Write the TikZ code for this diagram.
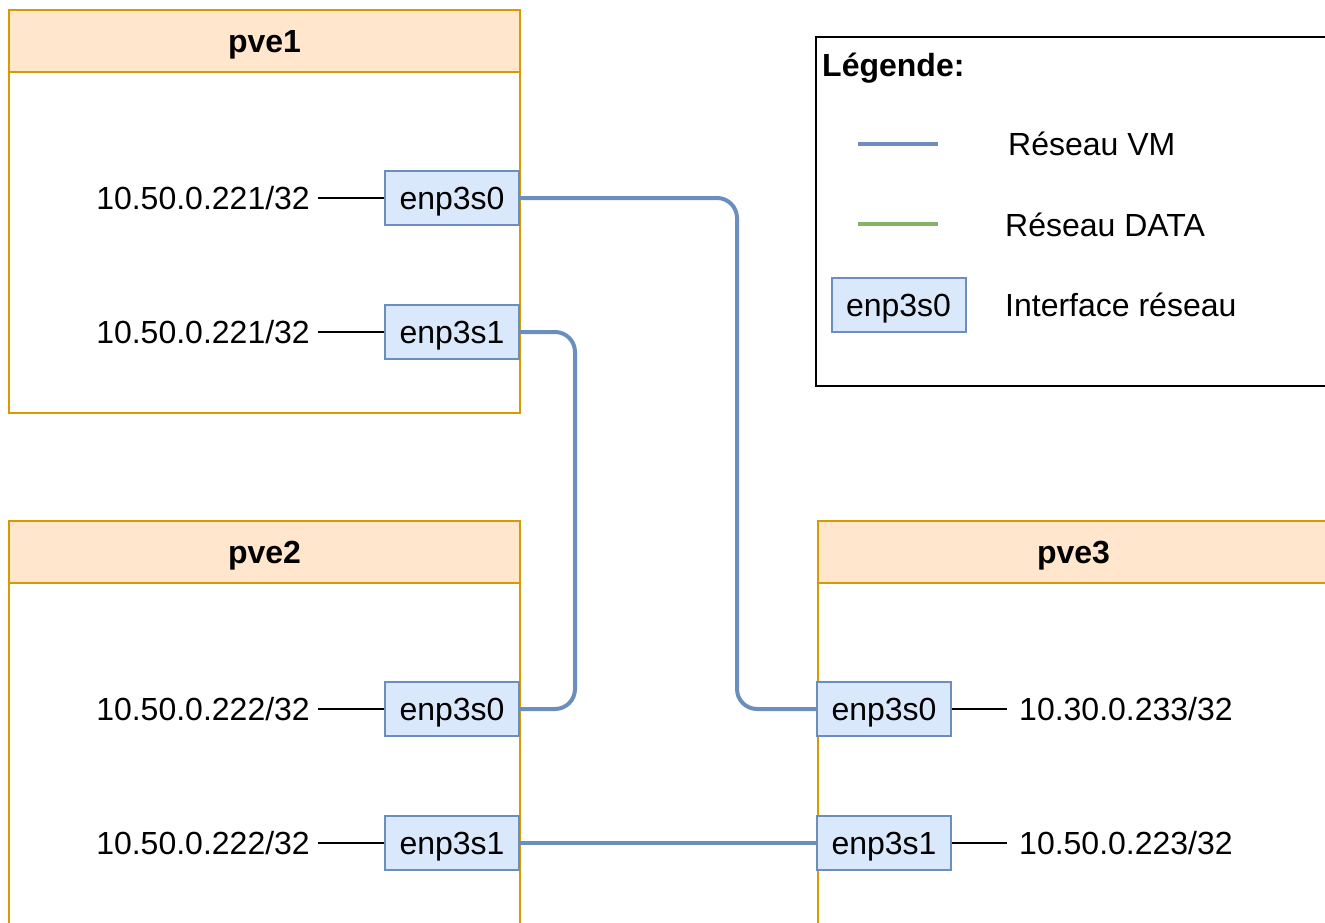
\documentclass[tikz,border=0pt]{standalone}
\usepackage{fontspec}
\setmainfont{Liberation Sans}
\definecolor{hostline}{HTML}{D79B00}
\definecolor{hostfill}{HTML}{FFE6CC}
\definecolor{ifline}{HTML}{6C8EBF}
\definecolor{iffill}{HTML}{DAE8FC}
\definecolor{dataline}{HTML}{82B366}
\begin{document}
\begin{tikzpicture}[x=1pt,y=-1pt,
  every node/.style={font=\fontsize{32}{38}\selectfont, text height=23pt, text depth=0pt},
  hostbody/.style={draw=hostline, line width=2pt, fill=white, minimum width=511pt, minimum height=403pt, anchor=north west, inner sep=0pt},
  hosthead/.style={draw=hostline, line width=2pt, fill=hostfill, minimum width=511pt, minimum height=62pt, anchor=north west, inner sep=0pt, font=\fontsize{32}{38}\selectfont\bfseries},
  iface/.style={draw=ifline, fill=iffill, line width=2pt, minimum width=134pt, minimum height=54pt, inner sep=0pt},
  vm/.style={draw=ifline, line width=4pt, rounded corners=20pt},
  dataln/.style={draw=dataline, line width=4pt},
  ipline/.style={draw=black, line width=2pt},
  ipleft/.style={anchor=east, inner sep=8pt},
  ipright/.style={anchor=west, inner sep=12pt},
  legtext/.style={anchor=west, inner sep=0pt}
]
\useasboundingbox (0,0) rectangle (1325,923);

% hosts
\node[hostbody] (pve1) at (8,9) {};
\node[hosthead] (pve1h) at (8,9) {pve1};
\node[hostbody] (pve2) at (8,520) {};
\node[hosthead] (pve2h) at (8,520) {pve2};
\node[hostbody] (pve3) at (817,520) {};
\node[hosthead] (pve3h) at (817,520) {pve3};

% legend
\node[draw=black, line width=2pt, minimum width=512pt, minimum height=349pt, anchor=north west, inner sep=0pt] (leg) at (815,36) {};
\node[anchor=west, inner sep=0pt, font=\fontsize{32}{38}\selectfont\bfseries] (legtitle) at (822,65) {Légende:};
\coordinate (lvm1) at (858,144);
\coordinate (lvm2) at (938,144);
\coordinate (ld1) at (858,224);
\coordinate (ld2) at (938,224);
\draw[ifline, line width=4pt] (lvm1) -- (lvm2);
\draw[dataln] (ld1) -- (ld2);
\node[iface] (legif) at (898.5,304.5) {enp3s0};
\node[legtext] (legvm) at (1008,144) {Réseau VM};
\node[legtext] (legdata) at (1005,225) {Réseau DATA};
\node[legtext] (legiftxt) at (1005,305) {Interface réseau};

% interfaces
\node[iface] (p1e0) at (452,198) {enp3s0};
\node[iface] (p1e1) at (452,332) {enp3s1};
\node[iface] (p2e0) at (452,709) {enp3s0};
\node[iface] (p2e1) at (452,843) {enp3s1};
\node[iface] (p3e0) at (884,709) {enp3s0};
\node[iface] (p3e1) at (884,843) {enp3s1};

% addresses
\node[ipleft] (ip10) at (318,198) {10.50.0.221/32};
\node[ipleft] (ip11) at (318,332) {10.50.0.221/32};
\node[ipleft] (ip20) at (318,709) {10.50.0.222/32};
\node[ipleft] (ip21) at (318,843) {10.50.0.222/32};
\node[ipright] (ip30) at (1007,709) {10.30.0.233/32};
\node[ipright] (ip31) at (1007,843) {10.50.0.223/32};

\draw[ipline] (ip10) -- (p1e0);
\draw[ipline] (ip11) -- (p1e1);
\draw[ipline] (ip20) -- (p2e0);
\draw[ipline] (ip21) -- (p2e1);
\draw[ipline] (p3e0) -- (ip30);
\draw[ipline] (p3e1) -- (ip31);

% VM network links
\draw[vm] (p1e0.east) -- ++(217,0) |- (p3e0.west);
\draw[vm] (p1e1.east) -- ++(55,0) |- (p2e0.east);
\draw[vm] (p2e1.east) -- (p3e1.west);
\end{tikzpicture}
\end{document}
